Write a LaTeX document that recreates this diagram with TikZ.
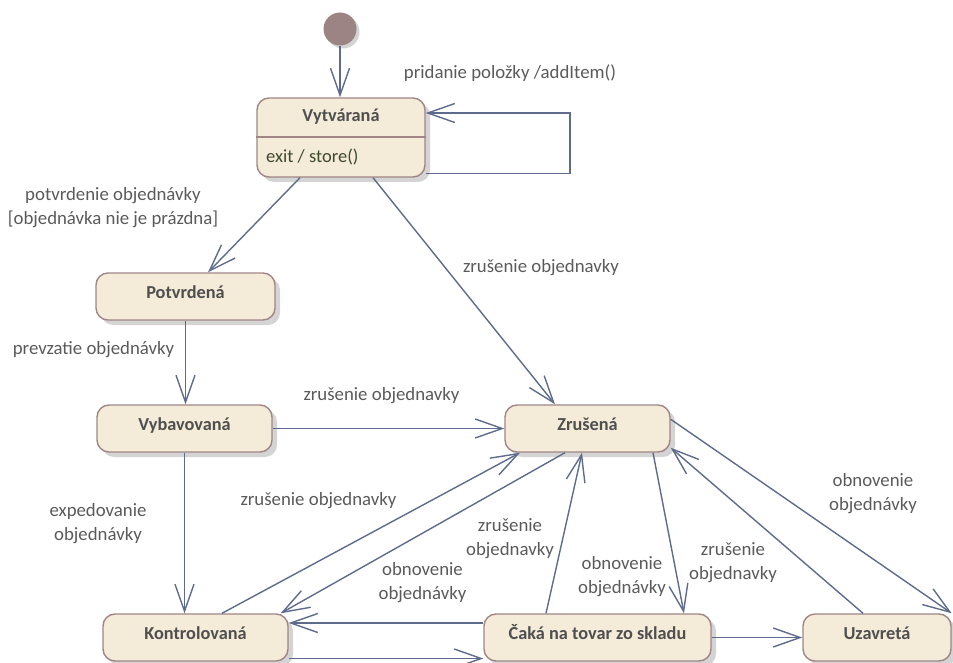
\documentclass[tikz,border=0pt]{standalone}
\usepackage{fontspec}
\setmainfont{Carlito}
\usetikzlibrary{arrows.meta,calc,shadows}

\definecolor{edgeblue}{HTML}{5E6B8C}
\definecolor{boxfill}{HTML}{F4EBD8}
\definecolor{boxline}{HTML}{A08686}
\definecolor{labelgray}{HTML}{5A5A5A}
\definecolor{titlegray}{HTML}{4F4F4F}
\definecolor{actiongreen}{HTML}{3E4A2C}
\definecolor{initfill}{HTML}{9C8484}

\tikzset{
  stbox/.style={draw=boxline, fill=boxfill, line width=1.4pt, rounded corners=12pt,
    minimum height=47pt, inner sep=0pt,
    font=\bfseries\fontsize{18.3}{22}\selectfont, text=titlegray,
    text height=13pt, text depth=9pt,
    drop shadow={shadow xshift=5pt, shadow yshift=-5pt, fill=black!17, opacity=1}},
  sttitle/.style={font=\bfseries\fontsize{18.3}{22}\selectfont, text=titlegray, inner sep=0pt},
  staction/.style={font=\fontsize{18.5}{22}\selectfont, text=actiongreen, inner sep=0pt, anchor=west},
  initst/.style={circle, fill=initfill, minimum size=33pt, inner sep=0pt,
    drop shadow={shadow xshift=3pt, shadow yshift=-3pt, fill=black!17, opacity=1}},
  lbl/.style={font=\fontsize{18.8}{24}\selectfont, text=labelgray, align=center, inner sep=0pt},
  tr/.style={draw=edgeblue, line width=1.4pt,
    -{Straight Barb[length=27pt,width=19pt,line width=1.4pt]}},
}

\begin{document}
\begin{tikzpicture}[x=1pt,y=-1pt]
\useasboundingbox (0,0) rectangle (953,663);

% states
\node[initst] (init) at (340,29) {};
\node[stbox, minimum width=168pt, minimum height=79pt] (vyt) at (341,137.5) {};
\node[sttitle] (vytT) at (341,117) {Vytváraná};
\node[staction] (vytA) at (266,157) {exit / store()};
\coordinate (divy) at (0,137);
\draw[boxline, line width=1.4pt] (vyt.west |- divy) -- (vyt.east |- divy);

\node[stbox, minimum width=179pt] (pot) at (185.5,296.5) {Potvrdená};
\node[stbox, minimum width=175pt] (vyb) at (184.5,428.5) {Vybavovaná};
\node[stbox, minimum width=165pt] (zr)  at (587.5,428.5) {Zrušená};
\node[stbox, minimum width=185pt] (kon) at (195.5,637.5) {Kontrolovaná};
\node[stbox, minimum width=227pt] (cak) at (597.5,637.5) {Čaká na tovar zo skladu};
\node[stbox, minimum width=148pt] (uz)  at (877,637.5) {Uzavretá};

% transitions
\draw[tr] (init) -- (init |- vyt.north);

\coordinate (loopc) at (570,113);
\draw[tr] ($(vyt.south east)+(0,-4)$) -| (loopc) -- (loopc -| vyt.east);

\draw[tr] ($(vyt.south)+(-41,0)$) -- ($(pot.north)+(22.5,0)$);
\draw[tr] ($(vyt.south)+(32,0)$) -- ($(zr.north)+(-32.5,0)$);
\draw[tr] (pot.south) -- (pot.south |- vyb.north);
\draw[tr] (vyb.east) -- (vyb.east -| zr.west);
\draw[tr] (vyb.south) -- (vyb.south |- kon.north);

\draw[tr] ($(kon.north)+(26.5,0)$) -- ($(zr.south)+(-67.5,0)$);
\draw[tr] ($(zr.south)+(-22.5,0)$) -- ($(kon.north east)+(-8,0)$);
\draw[tr] ($(cak.north)+(-51.5,0)$) -- ($(zr.south)+(-5.5,0)$);
\draw[tr] ($(zr.south)+(65.5,0)$) -- ($(cak.north)+(86.5,0)$);
\draw[tr] ($(uz.north)+(-14,0)$) -- ($(zr.south east)+(0,-5)$);
\draw[tr] ($(zr.north east)+(0,15)$) -- (uz.north east);

\coordinate (kcA) at ($(cak.west)+(0,-14.5)$);
\draw[tr] (kcA) -- (kcA -| kon.east);
\coordinate (kcB) at ($(kon.east)+(0,21)$);
\draw[tr] (kcB) -- (kcB -| cak.west);
\draw[tr] (cak.east) -- (cak.east -| uz.west);

% transition labels
\node[lbl] (l1)  at (510,73)    {pridanie položky /addItem()};
\node[lbl] (l2)  at (113,208)   {potvrdenie objednávky\\{}[objednávka nie je prázdna]};
\node[lbl] (l3)  at (541,268)   {zrušenie objednavky};
\node[lbl] (l4)  at (93.5,350)  {prevzatie objednávky};
\node[lbl] (l5)  at (381.5,396) {zrušenie objednavky};
\node[lbl] (l6)  at (98,523.5)  {expedovanie\\objednávky};
\node[lbl] (l7)  at (318.5,501) {zrušenie objednavky};
\node[lbl] (l8)  at (422.5,582.5) {obnovenie\\objednávky};
\node[lbl] (l9)  at (510,539)   {zrušenie\\objednavky};
\node[lbl] (l10) at (622,576.5) {obnovenie\\objednávky};
\node[lbl] (l11) at (733,562.5) {zrušenie\\objednavky};
\node[lbl] (l12) at (873,493.5) {obnovenie\\objednávky};
\end{tikzpicture}
\end{document}
